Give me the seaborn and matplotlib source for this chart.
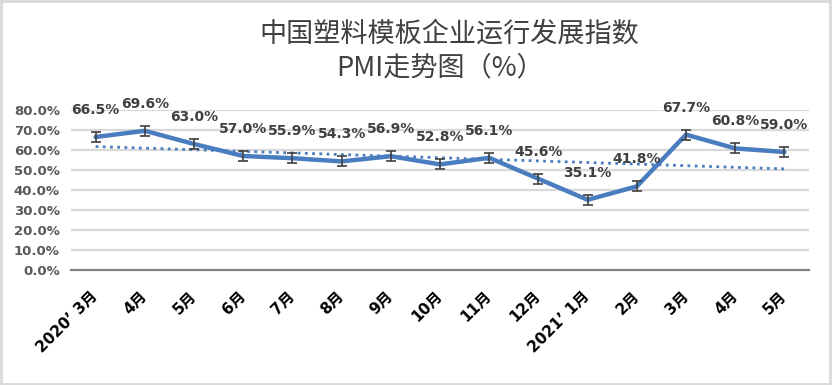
import numpy as np
import pandas as pd
import matplotlib
matplotlib.use("Agg")
import matplotlib.pyplot as plt
import seaborn as sns
from matplotlib.patches import Rectangle

categories = ["2020’ 3月", "4月", "5月", "6月", "7月", "8月", "9月", "10月", "11月",
              "12月", "2021’ 1月", "2月", "3月", "4月", "5月"]
pmi = [66.5, 69.6, 63.0, 57.0, 55.9, 54.3, 56.9, 52.8, 56.1, 45.6, 35.1, 41.8, 67.7, 60.8, 59.0]
err = 2.5
yticks = [0, 10, 20, 30, 40, 50, 60, 70, 80]

sns.set_theme(style="white")
plt.rcParams['font.family'] = ['DejaVu Sans', 'Noto Sans CJK SC']

df = pd.DataFrame({"idx": np.arange(len(categories)), "pmi": pmi})

fig = plt.figure(figsize=(8.32, 3.85), dpi=100)
ax = fig.add_axes([71/832, 1-270/385, (809-71)/832, 160/385])

blue = "#4a7dbf"
grid_c = "#d9d9d9"

for t in yticks[1:]:
    ax.axhline(t, color=grid_c, lw=1.6, zorder=0)

# trend line
coef = np.polyfit(df["idx"], df["pmi"], 1)
trend = np.polyval(coef, df["idx"])
ax.plot(df["idx"], trend, color=blue, lw=2, ls=(0, (1, 1.6)), zorder=2)

sns.lineplot(data=df, x="idx", y="pmi", ax=ax, color=blue, lw=3.2, zorder=3)
ax.errorbar(df["idx"], df["pmi"], yerr=err, fmt="none", ecolor="#404040",
            elinewidth=1.2, capsize=3.5, capthick=1.2, zorder=4)

for x, y in zip(df["idx"], df["pmi"]):
    ax.annotate(f"{y:.1f}%", (x, y), xytext=(0, 19.5), textcoords="offset points",
                ha="center", va="center", fontsize=10, fontweight="bold", color="#404040",
                zorder=5)

ax.set_xlim(-0.5, len(categories) - 0.5)
ax.set_ylim(0, 80)
ax.set_yticks(yticks)
ax.set_yticklabels([f"{t:.1f}%" for t in yticks], fontsize=9.5, fontweight="bold", color="#595959")
ax.set_xticks(df["idx"])
ax.set_xticklabels(categories, rotation=45, ha="right", va="center", rotation_mode="anchor",
                   fontsize=11, fontweight="bold", color="black")
ax.tick_params(axis="x", length=0, pad=17)
ax.tick_params(axis="y", length=0, pad=8)
ax.set_xlabel("")
ax.set_ylabel("")
for s in ["left", "right", "top"]:
    ax.spines[s].set_visible(False)
ax.spines["bottom"].set_color("#808080")
ax.spines["bottom"].set_linewidth(1.6)
ax.set_facecolor("none")

fig.text(449/832, 1-34/385, "中国塑料模板企业运行发展指数", ha="center", va="center",
         fontsize=19.5, color="#404040", fontweight="medium",
         family=['Noto Sans CJK SC', 'DejaVu Sans'])
fig.text(440/832, 1-68/385, "PMI走势图（%）", ha="center", va="center",
         fontsize=19.5, color="#404040", fontweight="medium",
         family=['Noto Sans CJK SC', 'DejaVu Sans'])

fig.patches.append(Rectangle((0.001, 0.002), 0.997, 0.995, transform=fig.transFigure,
                             fill=False, edgecolor="#d9d9d9", lw=2))

fig.savefig("out.png", dpi=100)
